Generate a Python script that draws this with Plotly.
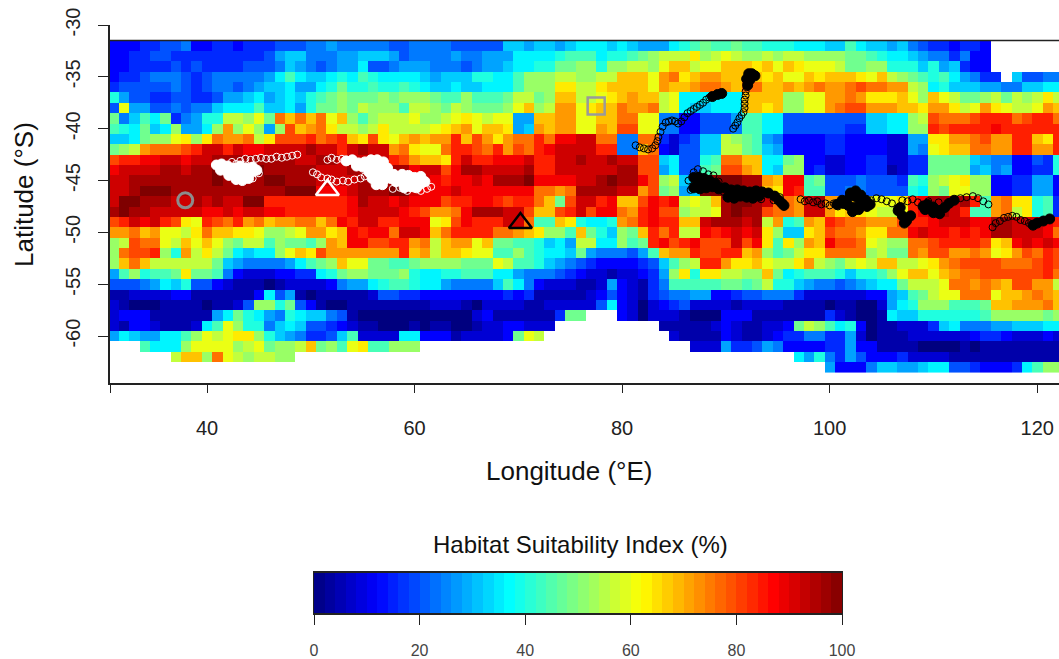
import plotly.graph_objects as go

# Habitat suitability grid. One letter per cell:
# a=0, b=4, c=8 ... z=100 (steps of 4 %), "." = no data.
# Rows run from 32 S to 63 S. Three blocks of columns.
lon_cells = list(range(31, 123))
lat_cells = [-v for v in range(32, 64)]

west_31_61 = [
"dddeeffgddeedeeefffgghgggggffgg",
"ddeeffeeeeeeeeefhiiggghhiiihfgg",
"ddeeeefefeeeefffgihgfghhjffghhh",
"deefgggfefggggghjljiijkjlkjjjji",
"efffffgfefggfghiijhhjkmkklkklkj",
"khffeeffeefhhijhijiklmnmmmnmnnn",
"fphhffgfggijjjliijhkmmnmonnnloo",
"mgiljmeghkkoonpmtrtrtprnlnooopn",
"lkjmijnhhjnsnpnhnurstqoonoqoooo",
"iijmnnpqnqtsstoquuuvtuvrquqprsr",
"mnostttuvxxvxwwxxxxyxxvxyxxstqp",
"uvvwwxxwxxyyyyyyyyxxyyxxxxxvusr",
"wxxxxyyxyyzzyyzyyyyyxxxyyyxyywx",
"xxyyyyyyyyzyyyyzzyyyxxxxyyyyyyx",
"xxyzzzyyyyyyyyyyyzzzwwwxyyyzzxw",
"xzzyyyxxyxyxxzzvvvvvvvvwyxxwxww",
"yzyyxxxxxwwxwxxwwvvvvvvwxxxxwvu",
"uvxwxvuqpvutvstrssttrtwvxxvvwww",
"sstrsppoqtrrqqpnnopssqrwvwwtxxw",
"nouttporprpnmoolnmmlnsrwwuuvvst",
"ntuuvnksoqomjijjnprqusssssssvrs",
"nrtroooooomihgggghjlmnrppmmllmn",
"hlnkllmqmmlgdcccddeejkmnnmmmnkj",
"fffghjikffdcbbbabccccdghhjkllkj",
"bbccccddbbbbbbdjfhbabbbbbcffeed",
"cbaaabbbbabbcfnnkmfdbaabbbbbbbb",
"cdddbbbbbbhjmkjhgkjiigfbaaaaaaa",
"cbddcbbbcjlpnkkgijiffedcbbaaaba",
"hjihhjjlnpopqqnkihgeefilccccjjd",
"...ljjjnppppnopmnnormnlpqllnnn.",
"......orrntponoonn.............",
"...............................",
]

middle_62_91 = [
"ggfffffiihiihijjjijihhhjklmllm",
"gghgghhhjjjjkllljkklmnoooqnopo",
"gggfghhijjkkmmnnknnoonprropprr",
"hiiikkjjlnnnoonnoorrrpstqrssrr",
"iijiijjjlnnnqqooqrrrrpsrrsttsr",
"mllnlllmoomnrroopqrsrropjjjjjj",
"nmonmmmnprnosspqrrtsstopjiijjj",
"nopqpopphhrrsspprrttppggddfffh",
"pqrsprrqhisrssppsruuppggddfffg",
"ssvrusqsttvtwwxxttggttecefiion",
"ptvvutvsutvwxxxxvvggrtdcffiioo",
"rqvxvvwwwxvvxxyxxyxxuuijffkltt",
"xuwyyxxxxyvvxxxxxxyyuuhjfflmuu",
"wvwwxwyyyzwwwwxxyzyywunoiiyzzz",
"wwxwwwwwwwttstyyyyxxsumnhizzzz",
"wuvvwwvuvvtrmuxxvwrruwvwoporyz",
"sstwyyyxxurruvxuwwtsvwuunoopyz",
"pquwvvvxxtllrqkjjkstvwvvrrxyyy",
"rtvvvvttsrqnnlrmkinmrvtvoowvwx",
"orssprmmllkijhoojjnlmvwuvwuuux",
"orrqppllnlkjjimhgggfhlrssvuuvv",
"nnnmmmpollkihgfeddddefilnovvsq",
"jkkllljjhgggfedccbccdehnqkqqoo",
"jhggggiljgdcccbbchdcbeglllllmm",
"dddddddedebbbbbcdfdcbefgghhdde",
"cccbaccccbbcccccfjdcacdefccccb",
"aaaacdbbbbbbemm...dcacccbaaadd",
"bbaabccddccc..........bbbbbcdc",
"ddbccccdmpo............cbbbbdc",
".........................ccche",
"..............................",
"..............................",
]

east_92_122 = [
"llkkkjjjiiljiihigfeedeed.......",
"nnonoonnnnmmlkjjihggegdd.......",
"rqrprqpppommnnkkkikhiedd.......",
"rrqrpprqrrrqpronmlkljhgee.iffgg",
"ttrrsrstsstuttssonjkiiihhggiijj",
"rrrrnnppsstsqqqrpnrpommnomonoqo",
"rrqrnnppstuusssrrqssqopsqpoopsr",
"lljjffffffffiijjnoutttuvvvtuvvt",
"lljjffffffeeiijjnnvuvvvvwvvvvvv",
"mlhgddddeeddddcchhqqsstussvvrqv",
"mlihddddeeddddcchgpqrrttssvvssv",
"rrjjmnddccddeecceemmmmihggddfek",
"srjinndeccddeebceemmmmhighddeek",
"yysrwwlmfffgfffelknopqnnddeehhd",
"yzrqwvllffggffffkjnmppnnddeehhd",
"zyxttsxyssrqpppqvwyyxyvlstqqkle",
"yyuttsxxsqrqpoopvwxyxvllstoqkle",
"xyosklsrvuttsssuvvwxxxwwyyxxxwv",
"wxqniiqruttsqqttwxwwvwvwyyxxxwt",
"uwqlqnsrwuutponnttuvvvvuqrwxwxw",
"rsnlmoqqttttnommtsuusstspqsutvu",
"qrpooqsonmoporroopqstuuuutttuvu",
"nnrmjklllkikklnprrprsttuuuuuuvt",
"lmokkihggfghijjmooopttstsruusso",
"ffgggeccccccddhilmopptttprrstsr",
"ccccbbbbabbaachjknnnlllmrrssstr",
"dbbbbbbbecbaabjiikkkkkklnnnnnmn",
"bbccdmonljkdabbccceijggghhiiijj",
"bbcdeeggeehcabbbccccccdeedcccdc",
"efhgddddeehddbbbbaaaababbbbbbbb",
".....jhkgehfdddeccccbbbbbbbbbbb",
"........hdddgiihhijjffedddejlnn",
]

# Animal tracks (longitude E, latitude S)
white_path_lon = [48.7,48.2,47.7,47.2,46.7,46.2,45.7,45.2,44.7,44.2,43.7,43.2,42.8,42.4,50.2,50.6,51.0,51.6,52.0,52.5,53.1,53.6,54.2,54.8,55.2,51.6,52.0,52.5,53.0,53.5,45.0,44.4,43.8,61.6,61.2,60.6,60.0,59.3,58.6,57.9]
white_path_lat = [-42.5,-42.6,-42.7,-42.8,-42.7,-42.9,-42.9,-42.8,-42.9,-43.0,-42.9,-43.1,-43.4,-43.2,-44.2,-44.4,-44.7,-44.8,-44.9,-45.1,-45.0,-45.1,-44.9,-44.8,-44.6,-43.0,-42.8,-43.0,-42.9,-43.2,-44.3,-44.8,-44.6,-45.6,-45.8,-46.0,-45.8,-46.0,-45.7,-45.8]
white_blob_lon = [40.9,41.4,42.0,42.6,43.2,43.8,44.4,41.3,41.9,42.5,43.1,43.7,44.3,44.8,42.1,42.7,43.3,43.9,42.8,43.4,44.0,
                  53.4,54.0,54.6,55.2,55.8,56.4,57.0,54.4,55.0,55.6,56.2,56.8,57.4,55.6,56.2,56.8,57.4,58.0,55.9,56.5,57.1,57.7,56.3,56.9,
                  58.2,58.8,59.4,60.0,60.6,58.2,58.8,59.4,60.0,60.6,61.0,59.0,59.6,60.2]
white_blob_lat = [-43.5,-43.4,-43.6,-43.8,-43.6,-43.8,-43.7,-44.0,-44.1,-44.0,-44.2,-44.1,-44.2,-44.0,-44.5,-44.6,-44.5,-44.6,-44.9,-45.0,-44.8,
                  -43.1,-43.0,-43.3,-43.2,-43.0,-43.0,-43.2,-43.6,-43.7,-43.5,-43.6,-43.7,-43.8,-44.2,-44.2,-44.3,-44.2,-44.4,-44.8,-44.8,-44.9,-44.8,-45.4,-45.4,
                  -44.6,-44.4,-44.5,-44.7,-44.6,-45.1,-45.2,-45.0,-45.1,-45.3,-45.1,-45.7,-45.6,-45.7]
track_c_lon = [81.3,81.7,82.1,82.5,82.9,83.2,83.4,83.5,83.7,83.9,84.2,84.5,84.8,85.1,85.4,85.7,86.0,86.3,86.6,86.9,87.2,87.5,87.8,88.1,88.4]
track_c_lat = [-41.6,-41.8,-41.9,-42.0,-41.9,-41.6,-41.2,-40.8,-40.3,-39.8,-39.4,-39.3,-39.2,-39.3,-39.5,-39.3,-38.9,-38.5,-38.3,-38.1,-37.9,-37.7,-37.5,-37.2,-37.0]
track_d_lon = [90.7,90.9,91.1,91.3,91.5,91.7,91.8,91.8,91.8,91.9,91.9,92.0,92.0,92.1]
track_d_lat = [-40.0,-39.7,-39.4,-39.0,-38.7,-38.4,-38.0,-37.6,-37.2,-36.8,-36.4,-36.0,-35.6,-35.2]
track_e_lon = [86.4,86.6,86.9,87.3,87.8,88.3,88.8,89.3,89.8,90.4,91.0,91.6,92.2,92.8,93.4,94.0,94.6,95.2]
track_e_lat = [-45.0,-45.9,-44.2,-43.9,-44.1,-44.4,-44.5,-45.1,-46.1,-46.2,-46.5,-46.4,-46.5,-46.1,-46.8,-46.3,-46.9,-46.6]
track_f_lon = [97.2,97.6,98.0,98.4,98.8,99.2,99.6,100.0,100.4,100.8,101.2,104.0,104.5,105.0,105.5,106.0,106.5,107.0,107.5,108.0,108.5,109.0,109.5,110.0,110.5,111.0,112.0,112.6,113.2,113.8,114.3,114.8,115.3]
track_f_lat = [-46.8,-47.0,-46.9,-47.1,-47.0,-47.3,-47.2,-47.4,-47.2,-47.5,-46.9,-46.9,-46.7,-46.8,-47.0,-47.2,-47.7,-46.9,-47.0,-46.8,-47.1,-47.3,-47.0,-47.4,-47.1,-47.6,-46.9,-46.7,-46.6,-46.5,-46.7,-47.0,-47.3]
track_g_lon = [115.7,116.0,116.4,116.8,117.2,117.6,118.0,118.4,118.8,119.2,119.6]
track_g_lat = [-49.5,-49.1,-48.9,-48.6,-48.5,-48.4,-48.5,-48.8,-48.9,-49.1,-49.2]
black_blob_lon = [88.7,89.2,89.6,
                  92.2,92.5,92.8,92.0,92.3,92.1,
                  86.9,87.4,87.9,88.4,87.3,87.9,88.5,89.0,86.9,87.5,88.1,88.7,89.3,89.9,90.5,91.1,91.7,92.3,92.9,93.5,94.1,90.2,90.8,91.4,92.0,92.6,93.2,94.7,95.1,95.4,95.6,
                  101.5,102.0,102.5,103.0,103.5,101.3,101.8,102.4,103.0,103.6,102.2,102.8,100.7,101.2,103.9,102.0,102.6,103.2,
                  106.6,107.0,107.4,107.8,107.2,106.8,
                  109.4,110.0,110.6,111.1,110.0,110.6,109.2,111.5,112.0,109.0,
                  120.0,120.6,121.2,119.6]
black_blob_lat = [-36.9,-36.7,-36.6,
                  -34.7,-34.7,-34.9,-35.2,-35.3,-35.8,
                  -44.7,-44.7,-44.8,-45.0,-45.2,-45.2,-45.4,-45.3,-45.7,-45.8,-45.7,-45.6,-45.8,-45.7,-45.9,-45.9,-46.0,-46.1,-46.0,-46.1,-46.2,-46.6,-46.7,-46.5,-46.6,-46.7,-46.5,-46.5,-46.9,-47.2,-47.4,
                  -47.0,-46.5,-46.0,-46.4,-46.9,-47.2,-47.4,-47.6,-47.2,-47.5,-48.0,-47.8,-47.3,-46.9,-47.3,-46.2,-46.6,-47.0,
                  -47.9,-48.4,-48.9,-48.4,-49.1,-47.6,
                  -47.3,-47.6,-47.9,-47.6,-48.1,-48.2,-47.8,-47.2,-46.9,-47.5,
                  -49.1,-48.9,-48.7,-49.3]

marker_circle = [37.9, -46.9]
marker_square = [77.5, -37.8]
marker_white_triangle = [51.6, -45.9]
marker_black_triangle = [70.2, -49.1]

x_ticks = [30.65, 40, 60, 80, 100, 120]
x_tick_text = ["", "40", "60", "80", "100", "120"]
y_ticks = [-30, -35, -40, -45, -50, -55, -60]
y_tick_text = ["-30", "-35", "-40", "-45", "-50", "-55", "-60"]
bar_ticks = [0, 20, 40, 60, 80, 100]
bar_levels = [v + 1 for v in range(0, 100, 2)]

jet = [[0, "#00007f"], [0.12, "#0000ff"], [0.37, "#00ffff"], [0.62, "#ffff00"], [0.87, "#ff0000"], [1, "#7f0000"]]
FONT = "Liberation Sans, Arial, sans-serif"
W, H = 1059, 659


def decode(ch):
    return None if ch == "." else (ord(ch) - ord("a")) * 4


z = []
for a, b, c in zip(west_31_61, middle_62_91, east_92_122):
    row = a[:31] + b[:30] + c[:31]
    z.append([decode(ch) for ch in row])

fig = go.Figure()
fig.add_trace(go.Heatmap(x=lon_cells, y=lat_cells, z=z, zmin=0, zmax=100, colorscale=jet,
                         showscale=False, hoverongaps=False))
fig.add_trace(go.Heatmap(x=bar_levels, y=[0], z=[bar_levels], zmin=0, zmax=100, colorscale=jet,
                         showscale=False, xaxis="x2", yaxis="y2"))


def dots(lons, lats, symbol, color, size, width=1.0):
    fig.add_trace(go.Scatter(x=lons, y=lats, mode="markers", showlegend=False, cliponaxis=True,
                             marker=dict(symbol=symbol, color=color, size=size,
                                         line=dict(color=color, width=width))))


dots(white_blob_lon, white_blob_lat, "circle", "white", 10)
dots(white_path_lon, white_path_lat, "circle-open", "white", 7)
dots(black_blob_lon, black_blob_lat, "circle", "black", 10)
for lons, lats in [(track_c_lon, track_c_lat), (track_d_lon, track_d_lat), (track_e_lon, track_e_lat),
                   (track_f_lon, track_f_lat), (track_g_lon, track_g_lat)]:
    dots(lons, lats, "circle-open", "black", 7)
dots(marker_circle[:1], marker_circle[1:], "circle-open", "#8c8c8c", 15, 3)
dots(marker_square[:1], marker_square[1:], "square-open", "#9a9a9a", 17, 2.5)
dots(marker_white_triangle[:1], marker_white_triangle[1:], "triangle-up-open", "white", 20, 2.5)
dots(marker_black_triangle[:1], marker_black_triangle[1:], "triangle-up-open", "black", 20, 2.5)

axis_common = dict(showgrid=False, zeroline=False, showline=True, linecolor="#222", linewidth=1.5,
                   ticks="outside", tickcolor="#222", tickwidth=1.2)
fig.update_layout(
    width=W, height=H, margin=dict(l=0, r=0, t=0, b=0, autoexpand=False), paper_bgcolor="white", plot_bgcolor="white",
    showlegend=False, font=dict(family=FONT, color="#111"),
    xaxis=dict(domain=[110 / W, 1], range=[30.65, 122.1], tickvals=x_ticks, ticktext=x_tick_text, ticklen=8,
               tickfont=dict(size=20, color="#222"), ticklabelstandoff=18, **axis_common),
    yaxis=dict(domain=[(H - 383) / H, (H - 25) / H], range=[-64.52, -30], tickvals=y_ticks, ticktext=y_tick_text,
               ticklen=10, tickangle=-90, tickfont=dict(size=20, color="#222"), ticklabelstandoff=10, **axis_common),
    xaxis2=dict(domain=[314 / W, 842 / W], range=[0, 100], anchor="y2", tickvals=bar_ticks, ticklen=10,
                tickfont=dict(size=16, color="#444"), ticklabelstandoff=12, mirror=True, **axis_common),
    yaxis2=dict(domain=[(H - 613) / H, (H - 573) / H], range=[-0.5, 0.5], anchor="x2", showticklabels=False,
                ticks="", showgrid=False, zeroline=False, showline=True, linecolor="#222", mirror=True),
    shapes=[dict(type="line", xref="x", yref="y", x0=30.65, x1=122.1, y0=-31.5, y1=-31.5,
                 line=dict(color="#222", width=1.5), layer="above")],
    annotations=[
        dict(text="Longitude (°E)", xref="paper", yref="paper", x=569 / W, y=(H - 471) / H, showarrow=False,
             font=dict(size=26, color="#111", family=FONT), xanchor="center", yanchor="middle"),
        dict(text="Latitude (°S)", xref="paper", yref="paper", x=24 / W, y=(H - 195) / H, showarrow=False,
             textangle=-90, font=dict(size=26, color="#111", family=FONT), xanchor="center", yanchor="middle"),
        dict(text="Habitat Suitability Index (%)", xref="paper", yref="paper", x=580 / W, y=(H - 544) / H,
             showarrow=False, font=dict(size=24, color="#111", family=FONT), xanchor="center", yanchor="middle"),
    ],
)
fig.write_html("out.html", config={"displayModeBar": False},
               post_script="document.body.style.margin='0';document.body.style.overflow='hidden';")
